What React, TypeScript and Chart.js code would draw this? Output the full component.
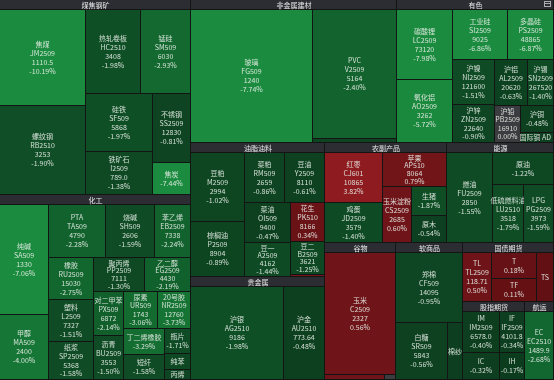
import React, { useEffect, useRef } from "react";
import { Chart, registerables } from "chart.js";

Chart.register(...registerables);

const CANVAS_W = 554;
const CANVAS_H = 380;
const HEADER_H = 10;
const FONT = '"Noto Sans CJK SC", "Noto Sans", sans-serif';

const groupNames = [
  "煤焦钢矿", "化工", "非金属建材", "有色", "油脂油料", "贵金属", "农副产品",
  "能源", "谷物", "软商品", "国债期货", "股指期货", "航运",
];

// optional row grouping for a sector (number of items per strip, in size order)
const chemRowSizes = [2, 3, 3, 2, 2, 2, 2, 1, 1, 1];

const leafGroup = [
  0, 0, 0, 0, 0, 0, 0, 0,
  1, 1, 1, 1, 1, 1, 1, 1, 1, 1, 1, 1, 1, 1, 1, 1, 1, 1, 1,
  2, 2, 2,
  3, 3, 3, 3, 3, 3, 3, 3, 3, 3, 3, 3,
  4, 4, 4, 4, 4, 4, 4, 4, 4,
  5, 5,
  6, 6, 6, 6, 6, 6,
  7, 7, 7, 7,
  8, 8, 8,
  9, 9, 9,
  10, 10, 10, 10,
  11, 11, 11, 11,
  12,
];

const leafNames = [
  "焦煤", "螺纹钢", "热轧卷板", "锰硅", "硅铁", "铁矿石", "不锈钢", "焦炭",
  "纯碱", "甲醇", "PTA", "烧碱", "苯乙烯", "橡胶", "塑料", "纸浆", "聚丙烯", "乙二醇",
  "对二甲苯", "沥青", "尿素", "20号胶", "丁二烯橡胶", "短纤", "瓶片", "纯苯", "丙烯",
  "玻璃", "PVC", "双胶纸",
  "碳酸锂", "氧化铝", "工业硅", "多晶硅", "沪镍", "沪锌", "沪铝", "沪锡", "沪铅", "沪铜", "国际铜", "AD",
  "豆粕", "棕榈油", "菜粕", "豆油", "菜油", "豆一", "花生", "豆二", "菜籽",
  "沪银", "沪金",
  "红枣", "鸡蛋", "苹果", "玉米淀粉", "生猪", "原木",
  "燃油", "原油", "低硫燃料油", "LPG",
  "玉米", "粳米", "早籼稻",
  "郑棉", "白糖", "棉纱",
  "TL", "T", "TF", "TS",
  "IM", "IF", "IC", "IH",
  "EC",
];

const leafCodes = [
  "JM2509", "RB2510", "HC2510", "SM509", "SF509", "I2509", "SS2509", "",
  "SA509", "MA509", "TA509", "SH509", "EB2509", "RU2509", "L2509", "SP2509", "PP2509", "EG2509",
  "PX509", "BU2509", "UR509", "NR2509", "", "", "", "", "",
  "FG509", "V2509", "",
  "LC2509", "AO2509", "SI2509", "PS2509", "NI2509", "ZN2509", "AL2509", "SN2509", "PB2509", "", "", "",
  "M2509", "P2509", "RM509", "Y2509", "OI509", "A2509", "PK510", "B2509", "",
  "AG2510", "AU2510",
  "CJ601", "JD2509", "AP510", "CS2509", "", "",
  "FU2509", "", "LU2510", "PG2509",
  "C2509", "", "",
  "CF509", "SR509", "",
  "TL2509", "", "", "",
  "IM2509", "IF2509", "", "",
  "EC2510",
];

const leafPrices = [
  "1110.5", "3253", "3408", "6030", "5868", "789.0", "12830", "",
  "1330", "2400", "4790", "2606", "7338", "15030", "7327", "5368", "7111", "4430",
  "6872", "3553", "1743", "12760", "", "", "", "", "",
  "1240", "5164", "",
  "73120", "3262", "9025", "48865", "121600", "22640", "20620", "267520", "16910", "", "", "",
  "2994", "8904", "2659", "8110", "9400", "4162", "8166", "3621", "",
  "9186", "773.64",
  "10865", "3579", "8064", "2685", "", "",
  "2850", "", "3518", "3973",
  "2327", "", "",
  "14095", "5843", "",
  "118.71", "", "", "",
  "6578.0", "4101.8", "", "",
  "1489.9",
];

const leafChanges = [
  -10.19, -1.9, -1.98, -2.93, -1.97, -1.38, -0.81, -7.44,
  -7.06, -4.0, -2.28, -1.59, -2.24, -2.75, -1.51, -1.58, -1.3, -2.19,
  -2.14, -1.5, -3.06, -3.73, -3.29, -1.58, -1.71, -1.2, -0.9,
  -7.74, -2.4, -0.8,
  -7.98, -5.72, -6.86, -6.87, -1.51, -0.9, -0.63, -1.4, 0.0, -0.48, -0.5, -0.6,
  -1.02, -0.89, -0.86, -0.61, -0.47, -1.44, 0.34, -1.25, 1.2,
  -1.98, -0.48,
  3.82, -1.4, 0.79, 0.6, -1.87, -0.54,
  -1.55, -1.22, -1.79, -1.59,
  0.56, 0.5, 0.0,
  -0.95, -0.56, -0.3,
  0.5, 0.18, 0.11, 0.05,
  -0.4, -0.34, -0.32, -0.17,
  -2.68,
];

const leafWeights = [
  8668, 8047, 4857, 4415, 4156, 3029, 2796, 1278,
  5735, 3358, 3189, 2790, 2012, 1949, 1948, 1803, 1792, 1624,
  1413, 1402, 1340, 1282, 1167, 1081, 685, 439, 274,
  17446, 11651, 361,
  4190, 3831, 2939, 2458, 2065, 1706, 1623, 1278, 1015, 981, 214, 150,
  4052, 3184, 2144, 2140, 1978, 1640, 1450, 1200, 75,
  9579, 4223,
  3224, 2579, 2412, 1805, 1128, 1051,
  4600, 2145, 2010, 1945,
  9350, 320, 60,
  5052, 3203, 924,
  1711, 1406, 1250, 1003,
  1732, 1170, 1154, 780,
  2262,
];

type Rect = { x: number; y: number; w: number; h: number };

function worst(areas: number[], sum: number, side: number): number {
  let mx = 0;
  let mn = Infinity;
  for (const a of areas) {
    if (a > mx) mx = a;
    if (a < mn) mn = a;
  }
  const s2 = sum * sum;
  const w2 = side * side;
  return Math.max((w2 * mx) / s2, s2 / (w2 * mn));
}

// values sorted descending; strips are laid along the shorter side of the free area.
// If rowSizes is given it fixes how many items go in each strip, otherwise squarified.
function squarify(values: number[], rect: Rect, rowSizes?: number[]): Rect[] {
  const out: Rect[] = [];
  const total = values.reduce((a, b) => a + b, 0);
  if (total <= 0 || rect.w <= 0 || rect.h <= 0) return values.map(() => ({ x: rect.x, y: rect.y, w: 0, h: 0 }));
  const k = (rect.w * rect.h) / total;
  const areas = values.map((v) => v * k);
  const r = { ...rect };
  let i = 0;
  let rowIdx = 0;
  while (i < areas.length) {
    const side = Math.min(r.w, r.h);
    let sum = areas[i];
    let j = i + 1;
    if (rowSizes && rowIdx < rowSizes.length) {
      const n = rowSizes[rowIdx];
      while (j < areas.length && j < i + n) {
        sum += areas[j];
        j++;
      }
    } else {
      let best = worst([areas[i]], sum, side);
      while (j < areas.length) {
        const ns = sum + areas[j];
        const wv = worst(areas.slice(i, j + 1), ns, side);
        if (wv <= best) {
          best = wv;
          sum = ns;
          j++;
        } else break;
      }
    }
    rowIdx++;
    const alongWidth = r.w <= r.h;
    const last = j >= areas.length;
    const thick = last ? (alongWidth ? r.h : r.w) : sum / side;
    let off = 0;
    for (let q = i; q < j; q++) {
      const len = (areas[q] / sum) * side;
      if (alongWidth) out[q] = { x: r.x + off, y: r.y, w: len, h: thick };
      else out[q] = { x: r.x, y: r.y + off, w: thick, h: len };
      off += len;
    }
    if (alongWidth) {
      r.y += thick;
      r.h -= thick;
    } else {
      r.x += thick;
      r.w -= thick;
    }
    i = j;
  }
  return out;
}

type Stop = [number, [number, number, number]];
const greenStops: Stop[] = [
  [0, [12, 58, 29]],
  [1, [14, 70, 34]],
  [2, [15, 79, 38]],
  [2.1, [17, 96, 44]],
  [3, [19, 106, 48]],
  [4, [22, 118, 53]],
  [5, [26, 134, 60]],
  [7, [27, 140, 63]],
];
const redStops: Stop[] = [
  [0, [98, 16, 19]],
  [0.5, [110, 20, 24]],
  [1, [116, 22, 26]],
  [4, [144, 27, 31]],
];

function rgb(c: [number, number, number]): string {
  return `rgb(${Math.round(c[0])},${Math.round(c[1])},${Math.round(c[2])})`;
}
function interp(stops: Stop[], v: number): string {
  if (v <= stops[0][0]) return rgb(stops[0][1]);
  for (let i = 1; i < stops.length; i++) {
    if (v <= stops[i][0]) {
      const [a, ca] = stops[i - 1];
      const [b, cb] = stops[i];
      const t = (v - a) / (b - a);
      return rgb([0, 1, 2].map((c) => ca[c] + (cb[c] - ca[c]) * t) as [number, number, number]);
    }
  }
  return rgb(stops[stops.length - 1][1]);
}
function cellColor(p: number): string {
  if (p === 0) return "#3b3c3f";
  return p > 0 ? interp(redStops, p) : interp(greenStops, -p);
}

const treemapPlugin = {
  id: "treemapCells",
  afterDatasetsDraw(chart: any) {
    const { ctx, scales, chartArea } = chart;
    const xs = scales.x;
    const ys = scales.y;
    const px = (v: number) => Math.round(xs.getPixelForValue(v));
    const py = (v: number) => Math.round(ys.getPixelForValue(v));

    ctx.save();
    ctx.fillStyle = "#131414";
    ctx.fillRect(chartArea.left, chartArea.top, chartArea.right - chartArea.left, chartArea.bottom - chartArea.top);

    const totals = groupNames.map((_, g) =>
      leafWeights.reduce((s, w, i) => (leafGroup[i] === g ? s + w : s), 0)
    );
    const gOrder = groupNames.map((_, i) => i).sort((a, b) => totals[b] - totals[a]);
    const gRects = squarify(gOrder.map((g) => totals[g]), { x: 0, y: 0, w: CANVAS_W, h: CANVAS_H });

    gOrder.forEach((g, gi) => {
      const r = gRects[gi];
      const gx0 = px(r.x);
      const gx1 = px(r.x + r.w);
      const gy0 = py(r.y);
      const gy1 = py(r.y + HEADER_H);
      ctx.fillStyle = "#2b2d32";
      ctx.fillRect(gx0, gy0, gx1 - gx0 - 1, gy1 - gy0 - 1);
      ctx.fillStyle = "#e9e9e9";
      ctx.font = `7px ${FONT}`;
      ctx.textAlign = "center";
      ctx.textBaseline = "middle";
      ctx.fillText(groupNames[g], (gx0 + gx1) / 2, (gy0 + gy1 - 1) / 2 + 0.5);

      const idx = leafWeights.map((_, i) => i).filter((i) => leafGroup[i] === g);
      idx.sort((a, b) => leafWeights[b] - leafWeights[a]);
      const content = { x: r.x, y: r.y + HEADER_H, w: r.w, h: r.h - HEADER_H };
      const lr = squarify(idx.map((i) => leafWeights[i]), content, g === 1 ? chemRowSizes : undefined);
      idx.forEach((li, k) => {
        const c = lr[k];
        const x0 = px(c.x);
        const x1 = px(c.x + c.w);
        const y0 = py(c.y);
        const y1 = py(c.y + c.h);
        const w = x1 - x0 - 1;
        const h = y1 - y0 - 1;
        if (w <= 0 || h <= 0) return;
        ctx.fillStyle = cellColor(leafChanges[li]);
        ctx.fillRect(x0, y0, w, h);
        if (h < 8) return;
        ctx.font = `7px ${FONT}`;
        const pctStr = leafChanges[li].toFixed(2) + "%";
        let lines = [leafNames[li]];
        if (leafCodes[li]) lines.push(leafCodes[li]);
        if (leafPrices[li]) lines.push(leafPrices[li]);
        lines.push(pctStr);
        if (lines.length > 2 && lines.length * 7.5 > h + 3) lines = [lines[0], pctStr];
        if (lines.length === 2 && h < 17) lines = [lines[0]];
        if (lines[lines.length - 1] === pctStr && ctx.measureText(pctStr).width > w + 2) lines.pop();
        const lh = Math.max(7.5, Math.min(9, (h - 2) / lines.length));
        const cx = x0 + w / 2;
        const cy = y0 + h / 2;
        ctx.fillStyle = "rgba(232,238,232,0.9)";
        lines.forEach((t, n) => {
          ctx.fillText(t, cx, cy + (n - (lines.length - 1) / 2) * lh);
        });
      });

      // small view-switch icon on the top-right sector header
      if (gx1 >= CANVAS_W - 1 && gy0 === 0) {
        ctx.strokeStyle = "#a9abb0";
        ctx.lineWidth = 1;
        ctx.strokeRect(gx1 - 9.5, 1.5, 6, 5);
        ctx.beginPath();
        ctx.moveTo(gx1 - 9.5, 3.5);
        ctx.lineTo(gx1 - 3.5, 3.5);
        ctx.stroke();
      }
    });
    ctx.restore();
  },
};

export default function App() {
  const ref = useRef<HTMLCanvasElement | null>(null);
  useEffect(() => {
    if (!ref.current) return;
    const chart = new Chart(ref.current, {
      type: "scatter",
      data: { datasets: [{ data: [], pointRadius: 0 }] },
      options: {
        animation: false,
        responsive: false,
        maintainAspectRatio: false,
        layout: { padding: 0 },
        scales: {
          x: { type: "linear", min: 0, max: CANVAS_W, display: false },
          y: { type: "linear", min: 0, max: CANVAS_H, reverse: true, display: false },
        },
        plugins: { legend: { display: false }, tooltip: { enabled: false } },
        events: [],
      },
      plugins: [treemapPlugin],
    });
    return () => chart.destroy();
  }, []);
  return (
    <div style={{ position: "fixed", left: 0, top: 0, width: CANVAS_W, height: CANVAS_H, background: "#131414" }}>
      <canvas ref={ref} width={CANVAS_W} height={CANVAS_H} style={{ display: "block" }} />
    </div>
  );
}
